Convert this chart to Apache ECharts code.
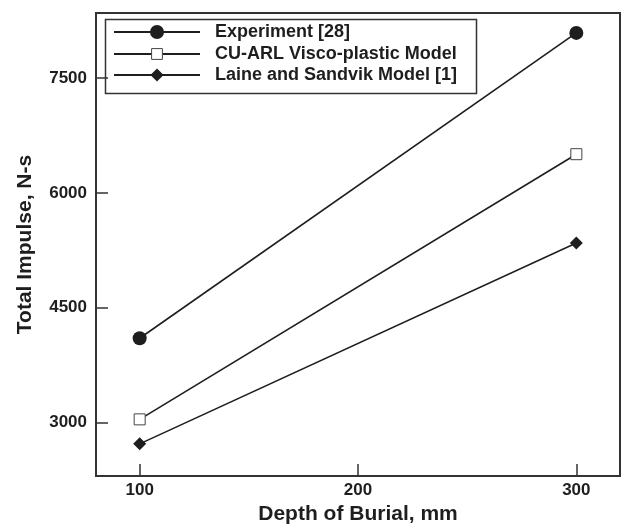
<!DOCTYPE html>
<html>
<head>
<meta charset="utf-8">
<script src="https://cdn.jsdelivr.net/npm/echarts@6/dist/echarts.min.js"></script>
<style>
  html, body { margin: 0; padding: 0; background: #fff; }
  #chart { width: 624px; height: 527px; }
</style>
</head>
<body>
<div id="chart"></div>
<script>
// data
var depth = [100, 300];
var experiment = [4100, 8090];
var cuArl = [3040, 6505];
var laine = [2720, 5345];
var xTicks = [100, 200, 300];
var yTicks = [3000, 4500, 6000, 7500];
var names = ['Experiment [28]', 'CU-ARL Visco-plastic Model', 'Laine and Sandvik Model [1]'];

var ink = '#1e1e1e';
var font = '"Liberation Sans", Arial, sans-serif';

function pairs(vals){
    return depth.map(function(d, i){ return [d, vals[i]]; });
}

// one legend per series so each marker keeps its own size
function legendFor(name, top, h){
    return {
        data: [name],
        left: 113,
        top: top,
        padding: 0,
        orient: 'vertical',
        itemWidth: 86,
        itemHeight: h,
        selectedMode: false,
        lineStyle: { width: 2 },
        itemStyle: { borderWidth: 1 },
        textStyle: {
            fontFamily: font,
            fontWeight: 'bold',
            fontSize: 18,
            color: ink,
            padding: [0, 0, 0, 10]
        }
    };
}

var chart = echarts.init(document.getElementById('chart'));
var option = {
    animation: false,
    backgroundColor: '#fff',
    grid: {
        left: 96, top: 13, right: 4, bottom: 51,
        containLabel: false,
        outerBoundsMode: 'none',
        show: true,
        borderColor: '#333',
        borderWidth: 2
    },
    legend: [
        legendFor(names[0], 23, 17.5),
        legendFor(names[1], 45, 13.5),
        legendFor(names[2], 66, 16.5)
    ],
    graphic: [{
        type: 'rect',
        left: 103,
        top: 17,
        shape: { width: 371, height: 74 },
        style: { fill: 'none', stroke: '#333', lineWidth: 1.5 },
        z: 10
    }],
    xAxis: {
        type: 'value',
        min: 80,
        max: 320,
        name: 'Depth of Burial, mm',
        nameLocation: 'middle',
        nameGap: 28,
        nameTextStyle: { fontFamily: font, fontWeight: 'bold', fontSize: 21, color: ink },
        axisLine: { show: true, lineStyle: { color: '#333', width: 2 } },
        axisTick: { show: true, inside: true, length: 12, customValues: xTicks, lineStyle: { color: '#333', width: 1.5 } },
        axisLabel: { customValues: xTicks, margin: 6, fontFamily: font, fontWeight: 'bold', fontSize: 17, color: ink },
        splitLine: { show: false }
    },
    yAxis: {
        type: 'value',
        min: 2300,
        max: 8350,
        name: 'Total Impulse, N-s',
        nameLocation: 'middle',
        nameGap: 60,
        nameTextStyle: { fontFamily: font, fontWeight: 'bold', fontSize: 21, color: ink },
        axisLine: { show: true, lineStyle: { color: '#333', width: 2 } },
        axisTick: { show: true, inside: true, length: 12, customValues: yTicks, lineStyle: { color: '#333', width: 1.5 } },
        axisLabel: {
            customValues: yTicks,
            margin: 9,
            fontFamily: font, fontWeight: 'bold', fontSize: 17, color: ink,
            formatter: function(v){ return String(v); }
        },
        splitLine: { show: false }
    },
    series: [
        {
            name: names[0],
            type: 'line',
            data: pairs(experiment),
            symbol: 'circle',
            symbolSize: 14,
            itemStyle: { color: ink },
            lineStyle: { color: ink, width: 1.6 }
        },
        {
            name: names[1],
            type: 'line',
            data: pairs(cuArl),
            symbol: 'rect',
            symbolSize: 11,
            itemStyle: { color: '#fff', borderColor: '#444', borderWidth: 1 },
            lineStyle: { color: ink, width: 1.6 }
        },
        {
            name: names[2],
            type: 'line',
            data: pairs(laine),
            symbol: 'diamond',
            symbolSize: [13, 13],
            itemStyle: { color: ink },
            lineStyle: { color: ink, width: 1.6 }
        }
    ]
};
chart.setOption(option);
</script>
</body>
</html>
